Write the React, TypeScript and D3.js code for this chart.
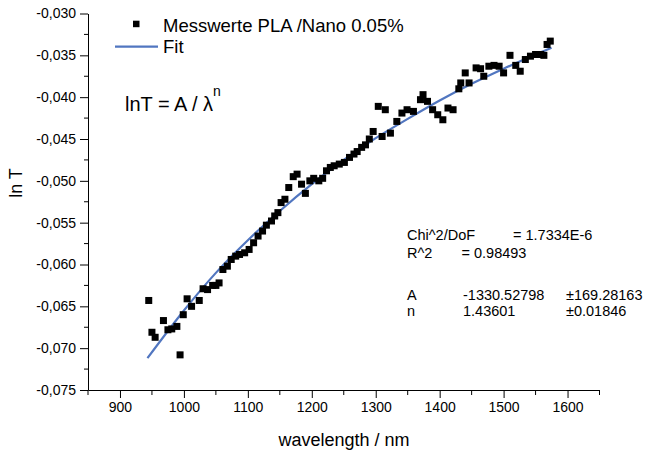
import { useEffect, useRef } from 'react';
import * as d3 from 'd3';

// measured points (wavelength in nm, ln T)
const wavelengths = [
  945, 950, 955, 968, 975, 981, 989, 994, 999, 1005, 1012, 1024, 1030, 1037, 1045, 1050,
  1055, 1061, 1068, 1074, 1081, 1087, 1095, 1102, 1109, 1116, 1123, 1129, 1137, 1142,
  1147, 1152, 1158, 1164, 1171, 1177, 1184, 1190, 1197, 1203, 1211, 1217, 1223, 1229,
  1235, 1243, 1251, 1259, 1266, 1271, 1278, 1284, 1290, 1296, 1304, 1310, 1315, 1323,
  1333, 1341, 1349, 1359, 1370, 1374, 1381, 1389, 1397, 1405, 1413, 1421, 1430, 1433,
  1440, 1446, 1457, 1464, 1469, 1477, 1485, 1493, 1500, 1510, 1519, 1526, 1534, 1542,
  1550, 1558, 1563, 1568, 1573,
];
const lnT = [
  -0.0643, -0.0681, -0.0687, -0.0667, -0.0678, -0.0677, -0.0674, -0.0708, -0.066, -0.0641,
  -0.065, -0.0643, -0.0629, -0.063, -0.0625, -0.0625, -0.0622, -0.0606, -0.0602, -0.0594,
  -0.059, -0.0588, -0.0586, -0.0582, -0.0574, -0.0566, -0.056, -0.0553, -0.0548, -0.0542,
  -0.0538, -0.0526, -0.0522, -0.0508, -0.0495, -0.0492, -0.0504, -0.0515, -0.05, -0.0497,
  -0.05, -0.0497, -0.0488, -0.0484, -0.0482, -0.048, -0.0478, -0.0472, -0.0468, -0.0465,
  -0.046, -0.0457, -0.045, -0.0441, -0.0411, -0.0447, -0.0415, -0.0443, -0.0429, -0.0419,
  -0.0415, -0.0417, -0.0403, -0.0397, -0.0405, -0.0415, -0.0421, -0.0427, -0.0413, -0.0415,
  -0.039, -0.0383, -0.0371, -0.0383, -0.0365, -0.0366, -0.0375, -0.0363, -0.0362, -0.0363,
  -0.0371, -0.035, -0.0362, -0.0369, -0.0355, -0.0351, -0.0349, -0.0349, -0.035, -0.0337,
  -0.0333,
];

// fit curve as drawn
const fitWavelengths = [943, 1000, 1050, 1100, 1150, 1200, 1250, 1300, 1350, 1400, 1450, 1500, 1550, 1575];
const fitValues = [
  -0.0712, -0.0655, -0.061, -0.0571, -0.0536, -0.0504, -0.0475, -0.0449, -0.0426, -0.0404,
  -0.0384, -0.0366, -0.0349, -0.0341,
];

const xTicks = [900, 1000, 1100, 1200, 1300, 1400, 1500, 1600];
const xMinorTicks = [850, 950, 1050, 1150, 1250, 1350, 1450, 1550, 1650];
const yTicks = [-0.075, -0.07, -0.065, -0.06, -0.055, -0.05, -0.045, -0.04, -0.035, -0.03];
const yMinorTicks = [-0.0725, -0.0675, -0.0625, -0.0575, -0.0525, -0.0475, -0.0425, -0.0375, -0.0325];

const fitStats = [
  ['Chi^2/DoF', '= 1.7334E-6'],
  ['R^2', '=  0.98493'],
];
const fitParams = [
  ['A', '-1330.52798', '±169.28163'],
  ['n', '1.43601', '±0.01846'],
];

const FONT = '"Liberation Sans", Arial, sans-serif';
const BLUE = '#5176c0';

function App() {
  const svgRef = useRef<SVGSVGElement>(null);

  useEffect(() => {
    const svg = d3.select(svgRef.current);
    svg.selectAll('*').remove();

    const x = d3.scaleLinear().domain([850, 1650]).range([88, 599.5]);
    const y = d3.scaleLinear().domain([-0.075, -0.03]).range([390, 13.5]);

    const locale = d3.formatLocale({
      decimal: ',',
      thousands: '.',
      grouping: [3],
      currency: ['', ''],
      minus: '-',
    });
    const fmt = locale.format('.3f');

    // x axis
    const gx = svg
      .append('g')
      .attr('transform', `translate(0,${y(-0.075)})`)
      .call(
        d3
          .axisBottom(x)
          .tickValues(xTicks)
          .tickFormat((d) => String(d))
          .tickSize(8)
          .tickSizeOuter(0)
          .tickPadding(4)
      );
    gx.append('g')
      .selectAll('line')
      .data(xMinorTicks)
      .enter()
      .append('line')
      .attr('x1', (d) => x(d))
      .attr('x2', (d) => x(d))
      .attr('y1', 0)
      .attr('y2', 5)
      .attr('stroke', '#000');

    // y axis
    const gy = svg
      .append('g')
      .attr('transform', `translate(${x(850)},0)`)
      .call(
        d3
          .axisLeft(y)
          .tickValues(yTicks)
          .tickFormat((d) => fmt(d as number))
          .tickSize(8)
          .tickSizeOuter(0)
          .tickPadding(4)
      );
    gy.append('g')
      .selectAll('line')
      .data(yMinorTicks)
      .enter()
      .append('line')
      .attr('x1', 0)
      .attr('x2', -4)
      .attr('y1', (d) => y(d))
      .attr('y2', (d) => y(d))
      .attr('stroke', '#000');

    svg
      .selectAll('.tick text')
      .style('font-family', FONT)
      .style('font-size', '14px')
      .attr('fill', '#000');
    svg.selectAll('.domain, .tick line').attr('stroke', '#000');

    // axis titles
    svg
      .append('text')
      .attr('x', 344)
      .attr('y', 446)
      .attr('text-anchor', 'middle')
      .style('font-family', FONT)
      .style('font-size', '18px')
      .text('wavelength / nm');
    svg
      .append('text')
      .attr('transform', 'translate(21.5,183) rotate(-90)')
      .attr('text-anchor', 'middle')
      .style('font-family', FONT)
      .style('font-size', '18px')
      .text('ln T');

    // fit line
    const line = d3
      .line<number>()
      .x((d) => x(d))
      .y((d, i) => y(fitValues[i]))
      .curve(d3.curveCatmullRom);
    svg
      .append('path')
      .attr('d', line(fitWavelengths))
      .attr('fill', 'none')
      .attr('stroke', BLUE)
      .attr('stroke-width', 2.2);

    // measured points
    const s = 7;
    svg
      .append('g')
      .selectAll('rect')
      .data(wavelengths)
      .enter()
      .append('rect')
      .attr('x', (d) => x(d) - s / 2)
      .attr('y', (d, i) => y(lnT[i]) - s / 2)
      .attr('width', s)
      .attr('height', s)
      .attr('fill', '#000');

    // legend
    svg
      .append('rect')
      .attr('x', 133)
      .attr('y', 20.7)
      .attr('width', 6.5)
      .attr('height', 6.5)
      .attr('fill', '#000');
    svg
      .append('line')
      .attr('x1', 115)
      .attr('x2', 158)
      .attr('y1', 46.7)
      .attr('y2', 46.7)
      .attr('stroke', BLUE)
      .attr('stroke-width', 2.2);
    const legend = svg.append('g').style('font-family', FONT).style('font-size', '18.5px');
    legend.append('text').attr('x', 163).attr('y', 31.5).text('Messwerte PLA /Nano 0.05%');
    legend.append('text').attr('x', 163).attr('y', 53).text('Fit');

    // model equation
    const eq = svg.append('text').attr('x', 125).attr('y', 110.5).style('font-family', FONT).style('font-size', '20px');
    eq.append('tspan').text('lnT = A / λ');
    eq.append('tspan').attr('dy', -15).style('font-size', '14px').text('n');

    // fit results
    const stats = svg
      .append('g')
      .style('font-family', FONT)
      .style('font-size', '14.5px')
      .style('white-space', 'pre');
    stats.append('text').attr('x', 407).attr('y', 240).text(fitStats[0][0]);
    stats.append('text').attr('x', 513).attr('y', 240).text(fitStats[0][1]);
    stats.append('text').attr('x', 407).attr('y', 258).text(fitStats[1][0]);
    stats.append('text').attr('x', 461.5).attr('y', 258).text(fitStats[1][1]);
    fitParams.forEach((row, i) => {
      const yy = 300 + i * 15.5;
      stats.append('text').attr('x', 407).attr('y', yy).text(row[0]);
      stats.append('text').attr('x', 463).attr('y', yy).text(row[1]);
      stats.append('text').attr('x', 566).attr('y', yy).text(row[2]);
    });
  }, []);

  return (
    <svg
      ref={svgRef}
      width={649}
      height={451}
      style={{ position: 'absolute', left: 0, top: 0, background: '#fff' }}
    ></svg>
  );
}

export default App;
